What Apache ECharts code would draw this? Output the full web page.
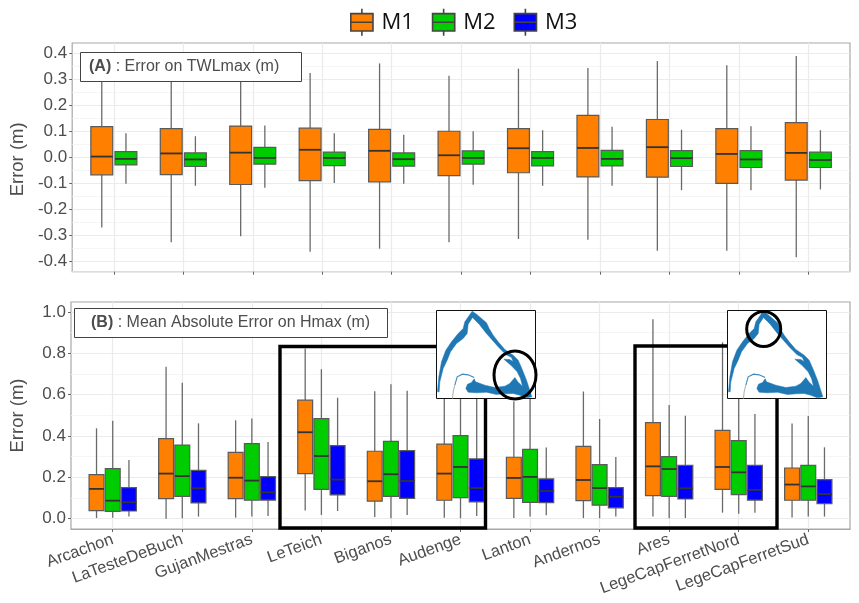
<!DOCTYPE html>
<html><head><meta charset="utf-8">
<style>html,body{margin:0;padding:0;background:#fff}#c{width:859px;height:603px}</style>
<script src="https://cdn.jsdelivr.net/npm/echarts@6/dist/echarts.min.js"></script>
</head><body><div id="c"></div>
<script>
const categories = ['Arcachon','LaTesteDeBuch','GujanMestras','LeTeich','Biganos','Audenge','Lanton','Andernos','Ares','LegeCapFerretNord','LegeCapFerretSud'];
const seriesNames = ['M1','M2','M3'];
// rows: low whisker, Q1, median, Q3, high whisker
const twl_M1 = [[-0.269,-0.067,0.003,0.118,0.33],[-0.325,-0.066,0.015,0.110,0.33],[-0.302,-0.104,0.018,0.120,0.35],[-0.362,-0.089,0.029,0.112,0.323],[-0.350,-0.094,0.025,0.107,0.360],[-0.325,-0.070,0.008,0.100,0.313],[-0.313,-0.059,0.035,0.110,0.340],[-0.316,-0.075,0.036,0.161,0.342],[-0.358,-0.076,0.039,0.145,0.369],[-0.358,-0.100,0.013,0.110,0.353],[-0.383,-0.087,0.017,0.133,0.388]];
const twl_M2 = [[-0.101,-0.029,-0.006,0.022,0.092],[-0.109,-0.035,-0.008,0.017,0.081],[-0.117,-0.026,-0.002,0.038,0.122],[-0.098,-0.032,-0.002,0.020,0.092],[-0.101,-0.034,-0.007,0.017,0.087],[-0.105,-0.026,-0.002,0.025,0.100],[-0.109,-0.033,-0.002,0.022,0.104],[-0.109,-0.033,-0.006,0.027,0.117],[-0.126,-0.035,-0.003,0.026,0.106],[-0.126,-0.039,-0.008,0.026,0.119],[-0.123,-0.039,-0.010,0.020,0.104]];
const hmax_M1 = [[0.003,0.039,0.144,0.213,0.437],[0.000,0.097,0.218,0.387,0.735],[0.005,0.097,0.198,0.321,0.476],[0.039,0.218,0.418,0.573,0.823],[0.008,0.085,0.181,0.326,0.616],[0.005,0.089,0.218,0.361,0.62],[0.003,0.098,0.197,0.297,0.568],[0.003,0.087,0.187,0.350,0.615],[0.010,0.111,0.253,0.465,0.965],[0.029,0.142,0.250,0.427,0.853],[0.006,0.089,0.165,0.245,0.460]];
const hmax_M2 = [[0.005,0.035,0.087,0.242,0.474],[0.002,0.108,0.206,0.356,0.658],[0.010,0.089,0.184,0.363,0.485],[0.018,0.142,0.303,0.484,0.723],[0.002,0.108,0.215,0.374,0.650],[0.002,0.102,0.250,0.402,0.65],[0.010,0.079,0.202,0.335,0.60],[0.002,0.065,0.148,0.261,0.482],[0.002,0.108,0.240,0.300,0.550],[0.024,0.116,0.224,0.377,0.62],[0.011,0.089,0.156,0.258,0.497]];
const hmax_M3 = [[0.010,0.037,0.079,0.150,0.284],[0.010,0.076,0.147,0.234,0.461],[0.013,0.090,0.127,0.203,0.371],[0.037,0.115,0.189,0.353,0.585],[0.018,0.098,0.182,0.329,0.619],[0.013,0.081,0.148,0.289,0.60],[0.016,0.077,0.134,0.192,0.344],[0.010,0.052,0.106,0.150,0.298],[0.003,0.095,0.147,0.258,0.498],[0.029,0.090,0.139,0.258,0.506],[0.010,0.073,0.119,0.189,0.345]];
const xTicks = [0,1,2,3,4,5,6,7,8,9,10];
const yTicksA = [-0.4,-0.3,-0.2,-0.1,0,0.1,0.2,0.3,0.4];
const yMinorA = [-0.35,-0.25,-0.15,-0.05,0.05,0.15,0.25,0.35];
const yTicksB = [0,0.2,0.4,0.6,0.8,1.0];
const yMinorB = [0.1,0.3,0.5,0.7,0.9];
const colors = {M1:'#ff7f00',M2:'#00cd00',M3:'#0000ff'};

const FONT='"Liberation Sans"', TXT='#4d4d4d';
function boxSeries(name,rows,axis,offset,width){
  return {type:'custom',name,xAxisIndex:axis,yAxisIndex:axis,z:3,silent:true,clip:false,
    itemStyle:{color:colors[name]},
    encode:{x:0,y:[1,2,3,4,5]},
    data:rows.map((r,i)=>[i,...r]),
    renderItem(p,api){
      const c=api.value(0)+offset, h=width/2;
      const pt=(x,v)=>api.coord([x,v]);
      const low=api.value(1),q1=api.value(2),med=api.value(3),q3=api.value(4),high=api.value(5);
      const ln=(a,b,s)=>({type:'line',shape:{x1:a[0],y1:a[1],x2:b[0],y2:b[1]},style:s});
      const wh={stroke:'#6a6a6a',lineWidth:1.3,fill:null};
      const tl=pt(c-h,q3),br=pt(c+h,q1);
      return {type:'group',children:[
        ln(pt(c,low),pt(c,q1),wh),
        ln(pt(c,q3),pt(c,high),wh),
        {type:'rect',shape:{x:tl[0],y:tl[1],width:br[0]-tl[0],height:br[1]-tl[1]},
          style:{fill:colors[name],stroke:'#5a5a5a',lineWidth:1.2}},
        ln(pt(c-h,med),pt(c+h,med),{stroke:'#333333',lineWidth:1.8,fill:null})
      ]};
    }};
}
function yAxis(gridIndex,min,max,ticks,name,pad){
  return {type:'value',gridIndex,min,max,name,nameLocation:'middle',nameGap:44,
    nameTextStyle:{fontFamily:FONT,fontSize:18.5,color:TXT,padding:pad},
    axisLine:{show:false,onZero:false},
    axisTick:{show:true,length:3,customValues:ticks,lineStyle:{color:'#666',width:1}},
    axisLabel:{show:true,margin:5,customValues:ticks,fontFamily:FONT,fontSize:17,color:TXT,formatter:v=>(+v).toFixed(1)},
    splitLine:{show:true,lineStyle:{color:'#ebebeb',width:1.2}},
    minorSplitLine:{show:false}};
}
function minorAxis(gridIndex,min,max,ticks){
  return {type:'value',gridIndex,min,max,position:'left',
    axisLine:{show:false,onZero:false},axisLabel:{show:false},
    axisTick:{show:false,customValues:ticks},
    splitLine:{show:true,lineStyle:{color:'#f3f3f3',width:0.8}}};
}
function xAxis(gridIndex,labels){
  return {type:'value',gridIndex,min:-0.6,max:10.6,
    axisLine:{show:true,onZero:false,lineStyle:{color:gridIndex?'#a8a8a8':'#dcdcdc',width:1.2}},
    axisTick:{show:true,length:3,customValues:xTicks,lineStyle:{color:'#666',width:1}},
    axisLabel:{show:labels,customValues:xTicks,rotate:20,margin:10,fontFamily:FONT,fontSize:16.5,color:TXT,
      hideOverlap:false,interval:0,formatter:v=>categories[Math.round(v)]},
    splitLine:{show:true,lineStyle:{color:'#ebebeb',width:1.2}}};
}
// inset map of the lagoon (image-like decoration), outline in 3x crop coordinates; box origin is (20,31)
const mapOutline=[[127,33],[140,42],[155,55],[170,68],[178,85],[190,105],[205,125],[225,148],[250,165],[265,180],[276,205],[290,240],[306,290],[290,293],[270,285],[250,280],[225,281],[200,283],[170,276],[140,278],[115,276],[108,265],[113,252],[125,247],[133,236],[137,245],[165,255],[195,262],[225,258],[240,250],[255,232],[265,246],[278,258],[272,235],[262,215],[245,197],[222,177],[240,178],[250,185],[245,172],[228,163],[205,140],[185,117],[168,98],[148,72],[128,52],[115,72],[112,100],[100,115],[80,130],[62,155],[52,180],[40,205],[30,245],[28,275],[23,275],[27,230],[35,185],[48,150],[65,125],[85,100],[100,85],[105,65]];
function inset(x,y,ell){
  const f=(a,b)=>[x+(a-20)/3,y+(b-31)/3];
  return [
   {type:'rect',z:50,shape:{x,y,width:99,height:88},style:{fill:'#fff',stroke:'#111',lineWidth:1}},
   {type:'polygon',z:51,shape:{points:mapOutline.map(p=>f(p[0],p[1]))},style:{fill:'#1f77b4',stroke:'#1f77b4',lineWidth:0.5}},
   {type:'polyline',z:51,shape:{points:[f(133,232),f(115,224),f(98,222),f(82,230),f(75,255)]},style:{fill:null,stroke:'#3a8abf',lineWidth:1.1}},
   {type:'polyline',z:51,shape:{points:[f(75,255),f(70,275),f(68,295)]},style:{fill:null,stroke:'#b5b5b5',lineWidth:1.1}},
   {type:'ellipse',z:52,shape:ell,style:{fill:null,stroke:'#000',lineWidth:3}}
  ];
}
function labelBox(x,y,w,h,tag,text,tx){
  return [
   {type:'rect',z:40,shape:{x,y,width:w,height:h},style:{fill:'#fff',stroke:'#444',lineWidth:1}},
   {type:'text',z:41,x:tx,y:y+h/2,style:{text:'{b|'+tag+'}{n| : '+text+'}',verticalAlign:'middle',align:'left',
     rich:{b:{fontFamily:FONT,fontSize:16,fontWeight:'bold',fill:TXT,color:TXT},n:{fontFamily:FONT,fontSize:16,fill:TXT,color:TXT}}}}
  ];
}
const frame=(x,y,w,h,lw)=>({type:'rect',z:30,shape:{x,y,width:w,height:h},style:{fill:null,stroke:'#000',lineWidth:lw}});
const legendIcon='path://M0,5H23V23H0Z M0,14H23 M11.5,0V5 M11.5,23V28';

const chart=echarts.init(document.getElementById('c'),null,{renderer:'canvas'});
chart.setOption({
  animation:false,backgroundColor:'#fff',
  legend:{left:345,top:3,itemWidth:23,itemHeight:27,itemGap:18,
    data:seriesNames.map(n=>({name:n,icon:legendIcon})),
    itemStyle:{borderColor:'#444',borderWidth:1.6},
    textStyle:{fontFamily:'"Open Sans"',fontSize:22,color:'#111',padding:[0,0,0,3]}},
  grid:[
    {left:67.5,right:9,top:43,height:228.7,show:true,backgroundColor:'#fff',borderColor:'#a8a8a8',borderWidth:1.2},
    {left:67.5,right:9,top:302,height:227,show:true,backgroundColor:'#fff',borderColor:'#a8a8a8',borderWidth:1.2}
  ],
  xAxis:[xAxis(0,false),xAxis(1,true)],
  yAxis:[yAxis(0,-0.4383,0.4383,yTicksA,'Error (m)',[0,4,0,0]),yAxis(1,-0.05,1.048,yTicksB,'Error (m)',0),
         minorAxis(0,-0.4383,0.4383,yMinorA),minorAxis(1,-0.05,1.048,yMinorB)],
  series:[
    boxSeries('M1',twl_M1,0,-0.174,0.315),
    boxSeries('M2',twl_M2,0,0.174,0.315),
    boxSeries('M1',hmax_M1,1,-0.233,0.214),
    boxSeries('M2',hmax_M2,1,0,0.214),
    boxSeries('M3',hmax_M3,1,0.233,0.214)
  ],
  graphic:{elements:[
    ...labelBox(80.5,52.5,221,29,'(A)','Error on TWLmax (m)',89),
    ...labelBox(74.5,308.5,313,29,'(B)','Mean Absolute Error on Hmax (m)',91),
    frame(280,346.5,205.5,181.5,3.4),
    frame(635,346,142,182,3.4),
    ...inset(436.5,310.5,{cx:515,cy:375,rx:21,ry:24}),
    ...inset(727.5,310.5,{cx:763.7,cy:329,rx:17,ry:17.5})
  ]}
});
</script></body></html>
